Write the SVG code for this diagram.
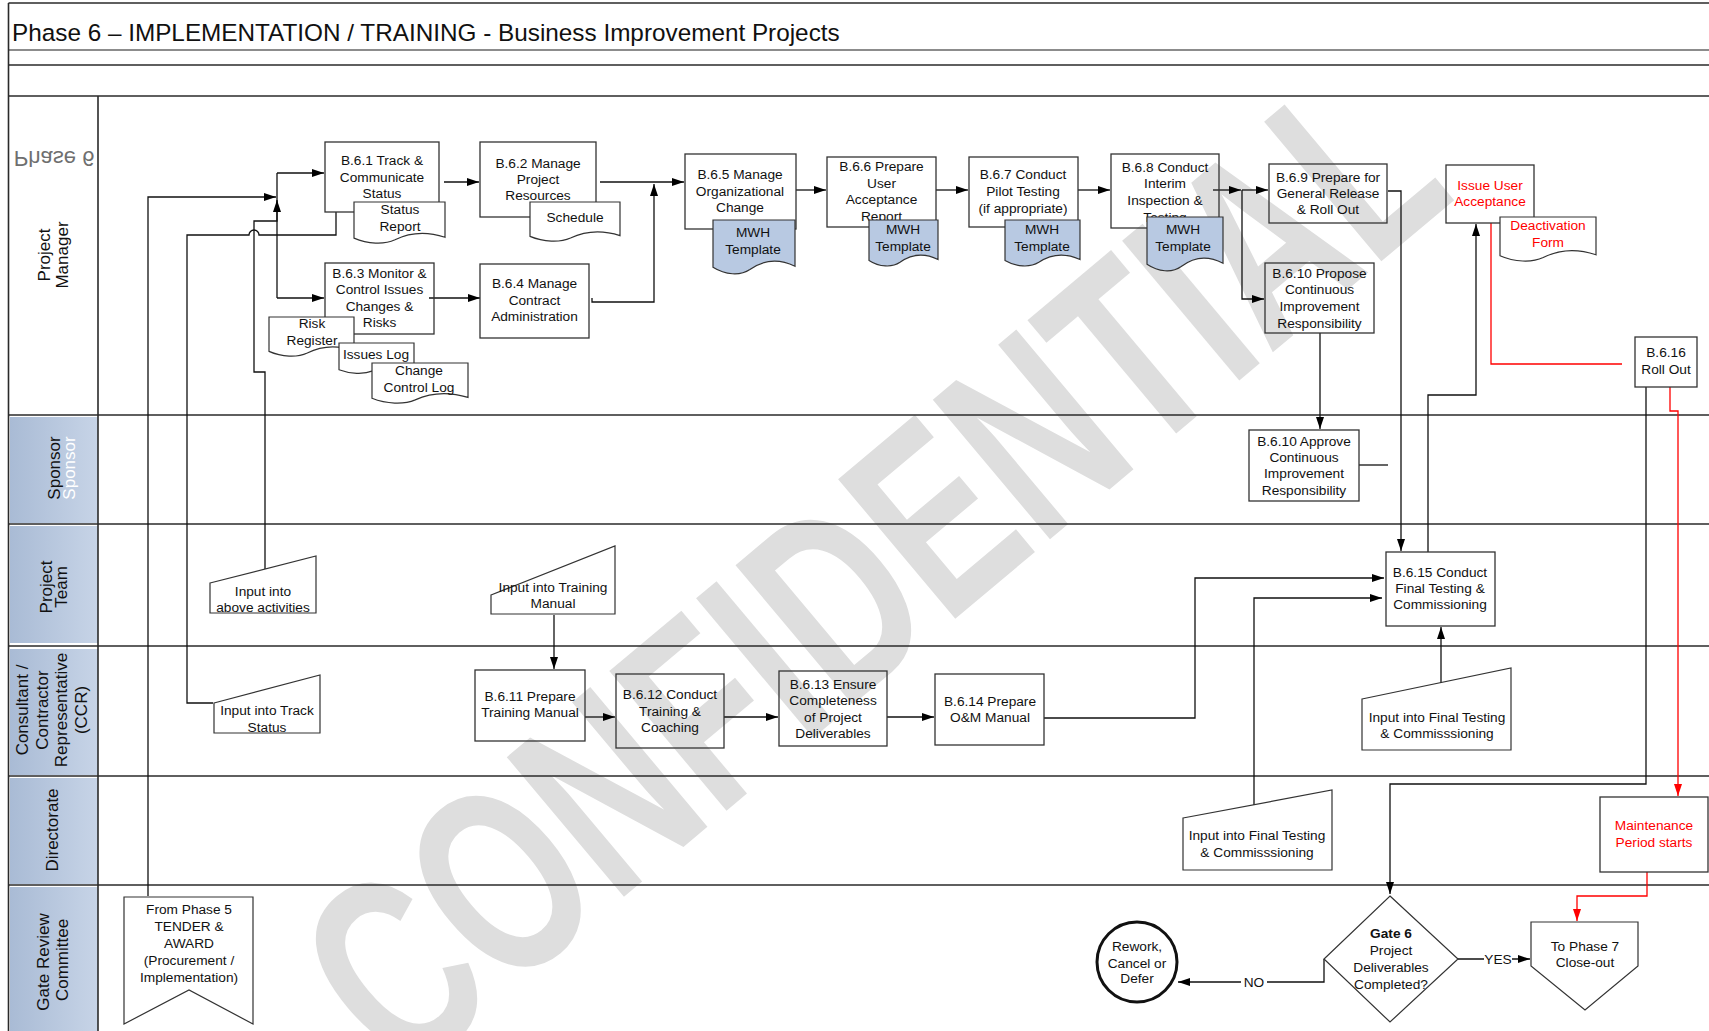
<svg xmlns="http://www.w3.org/2000/svg" width="1709" height="1031" viewBox="0 0 1709 1031">
<defs>
<style>
text{font-family:"Liberation Sans",Arial,sans-serif;}
.t{font-size:13.7px;text-anchor:middle;fill:#111;}
.red{fill:#ff0000;}
.lane{font-size:17px;text-anchor:middle;fill:#111;}
.box{fill:none;stroke:#333;stroke-width:1.3;}
.doc{fill:#ffffff;stroke:#333;stroke-width:1.2;}
.mwh{fill:#b8c9e2;stroke:#333;stroke-width:1.2;}
.inp{fill:none;stroke:#333;stroke-width:1.2;}
.ln{fill:none;stroke:#111;stroke-width:1.3;}
.rl{fill:none;stroke:#ff0000;stroke-width:1.3;}
.grid{stroke:#2a2a2a;stroke-width:1.6;fill:none;}
.lbl{fill:url(#lg);}
</style>
<linearGradient id="lg" x1="0" y1="0" x2="1" y2="0">
<stop offset="0" stop-color="#a9bbd5"/>
<stop offset="1" stop-color="#c7d4e7"/>
</linearGradient>
<marker id="ah" viewBox="0 0 12 8" refX="12" refY="4" markerWidth="12" markerHeight="8" markerUnits="userSpaceOnUse" orient="auto">
<path d="M0,0 L12,4 L0,8 z" fill="#000"/>
</marker>
<marker id="ahr" viewBox="0 0 12 8" refX="12" refY="4" markerWidth="12" markerHeight="8" markerUnits="userSpaceOnUse" orient="auto">
<path d="M0,0 L12,4 L0,8 z" fill="#ff0000"/>
</marker>
</defs>
<rect x="0" y="0" width="1709" height="1031" fill="#ffffff"/>
<!-- watermark -->
<text transform="translate(930,640) rotate(-40)" font-size="265" font-weight="bold" text-anchor="middle" textLength="1380" lengthAdjust="spacingAndGlyphs" fill="#dedede">CONFIDENTIAL</text>

<!-- frame & lanes -->
<g id="frame">
<rect class="lbl" x="10" y="417" width="88" height="106"/>
<rect class="lbl" x="10" y="526" width="88" height="117"/>
<rect class="lbl" x="10" y="649" width="88" height="126"/>
<rect class="lbl" x="10" y="778" width="88" height="106"/>
<rect class="lbl" x="10" y="887" width="88" height="144"/>
<line class="grid" x1="8.5" y1="3" x2="1709" y2="3"/>
<line x1="8.5" y1="50" x2="1709" y2="50" stroke="#666" stroke-width="1.6"/>
<line class="grid" x1="8.5" y1="65" x2="1709" y2="65"/>
<line class="grid" x1="8.5" y1="96" x2="1709" y2="96"/>
<line class="grid" x1="8.5" y1="3" x2="8.5" y2="1031"/>
<line class="grid" x1="98" y1="96" x2="98" y2="1031"/>
<line class="grid" x1="8.5" y1="415" x2="1709" y2="415"/>
<line class="grid" x1="8.5" y1="524" x2="1709" y2="524"/>
<line class="grid" x1="8.5" y1="646" x2="1709" y2="646"/>
<line class="grid" x1="8.5" y1="776" x2="1709" y2="776"/>
<line class="grid" x1="8.5" y1="885" x2="1709" y2="885"/>
<text x="12" y="41" font-size="24.3" fill="#111">Phase 6 – IMPLEMENTATION / TRAINING - Business Improvement Projects</text>
<text transform="translate(54,151) scale(1,-1)" font-size="22" text-anchor="middle" fill="#6f6f6f">Phase 6</text>
<text class="lane" transform="translate(50,255) rotate(-90)">Project</text>
<text class="lane" transform="translate(68,255) rotate(-90)">Manager</text>
<text class="lane" transform="translate(60,468) rotate(-90)">Sponsor</text>
<text class="lane" transform="translate(75,468) rotate(-90)" style="fill:#ffffff">Sponsor</text>
<text class="lane" transform="translate(52,587) rotate(-90)">Project</text>
<text class="lane" transform="translate(67,587) rotate(-90)">Team</text>
<text class="lane" transform="translate(28,710) rotate(-90)">Consultant /</text>
<text class="lane" transform="translate(47.5,710) rotate(-90)">Contractor</text>
<text class="lane" transform="translate(67,710) rotate(-90)">Representative</text>
<text class="lane" transform="translate(86.5,710) rotate(-90)">(CCR)</text>
<text class="lane" transform="translate(58,830) rotate(-90)">Directorate</text>
<text class="lane" transform="translate(49,962) rotate(-90)">Gate Review</text>
<text class="lane" transform="translate(68,960) rotate(-90)">Committee</text>
</g>

<!-- connectors -->
<g id="connectors">
<path class="ln" d="M148,896 V197 H276" marker-end="url(#ah)"/>
<path class="ln" d="M277,173 V298"/>
<path class="ln" d="M277,173 H324" marker-end="url(#ah)"/>
<path class="ln" d="M277,298 H324" marker-end="url(#ah)"/>
<path class="ln" d="M265,569 V372 H254 V221 H277 V200" marker-end="url(#ah)"/>
<path class="ln" d="M336,212 V235 H259 A5,5 0 0 0 249,235 H187 V703 H213"/>
<path class="ln" d="M444,182 H479" marker-end="url(#ah)"/>
<path class="ln" d="M429,298 H480" marker-end="url(#ah)"/>
<path class="ln" d="M600,182 H684" marker-end="url(#ah)"/>
<path class="ln" d="M592,298 V302 H654 V184" marker-end="url(#ah)"/>
<path class="ln" d="M796,190 H826" marker-end="url(#ah)"/>
<path class="ln" d="M936,190 H968" marker-end="url(#ah)"/>
<path class="ln" d="M1078,190 H1110" marker-end="url(#ah)"/>
<path class="ln" d="M1213,190 H1241" marker-end="url(#ah)"/>
<path class="ln" d="M1242,190 H1268" marker-end="url(#ah)"/>
<path class="ln" d="M1242,190 V299 H1264" marker-end="url(#ah)"/>
<path class="ln" d="M1388,191 H1401 V551" marker-end="url(#ah)"/>
<path class="ln" d="M1320,333 V429" marker-end="url(#ah)"/>
<path class="ln" d="M1359,465 H1388"/>
<path class="ln" d="M1428,552 V395 H1476 V224" marker-end="url(#ah)"/>
<path class="rl" d="M1622,364 H1491 V223"/>
<path class="ln" d="M1646,387 V784 H1390 V894" marker-end="url(#ah)"/>
<path class="rl" d="M1670,387 V411 H1678 V796" marker-end="url(#ahr)"/>
<path class="rl" d="M1647,872 V896 H1577 V921" marker-end="url(#ahr)"/>
<path class="ln" d="M1458,959 H1530" marker-end="url(#ah)"/>
<path class="ln" d="M1324,959 V982 H1178" marker-end="url(#ah)"/>
<path class="ln" d="M585,717 H615" marker-end="url(#ah)"/>
<path class="ln" d="M724,717 H778" marker-end="url(#ah)"/>
<path class="ln" d="M887,717 H934" marker-end="url(#ah)"/>
<path class="ln" d="M1044,718 H1195 V578 H1384" marker-end="url(#ah)"/>
<path class="ln" d="M1254,805 V598 H1382" marker-end="url(#ah)"/>
<path class="ln" d="M1441,683 V627" marker-end="url(#ah)"/>
<path class="ln" d="M554,615 V669" marker-end="url(#ah)"/>
<rect x="1484" y="951" width="28" height="16" fill="#ffffff"/>
<text class="t" x="1498" y="964">YES</text>
<rect x="1241" y="974" width="26" height="16" fill="#ffffff"/>
<text class="t" x="1254" y="987">NO</text>
</g>

<!-- nodes -->
<g id="n-b61">
<rect class="box" x="325" y="142" width="114" height="70"/>
<text class="t" x="382"><tspan x="382" y="165">B.6.1 Track &amp;</tspan><tspan x="382" y="181.5">Communicate</tspan><tspan x="382" y="198">Status</tspan></text>
</g>
<g id="n-status-report">
<path class="doc" d="M354,202 H445 V237.3 C425,230.6 408.6,233.1 395,239.8 C384,244.8 367.7,244 354,238.1 Z"/>
<text class="t"><tspan x="400" y="214">Status</tspan><tspan x="400" y="231">Report</tspan></text>
</g>
<g id="n-b62">
<rect class="box" x="480" y="142" width="116" height="75"/>
<text class="t"><tspan x="538" y="168">B.6.2 Manage</tspan><tspan x="538" y="184">Project</tspan><tspan x="538" y="200">Resources</tspan></text>
</g>
<g id="n-schedule">
<path class="doc" d="M530,202 H620 V235.6 C600.2,229.2 584,231.6 570.5,238 C559.7,242.8 543.5,242 530,236.4 Z"/>
<text class="t" x="575" y="222">Schedule</text>
</g>
<g id="n-b63">
<rect class="box" x="325" y="263" width="109" height="71"/>
<text class="t"><tspan x="379.5" y="278">B.6.3 Monitor &amp;</tspan><tspan x="379.5" y="294">Control Issues</tspan><tspan x="379.5" y="311">Changes &amp;</tspan><tspan x="379.5" y="327">Risks</tspan></text>
</g>
<g id="n-risk-register">
<path class="doc" d="M269,317 H354 V350.6 C335.3,344.2 320,346.6 307.3,353 C297,357.8 281.8,357 269,351.4 Z"/>
<text class="t"><tspan x="312" y="328">Risk</tspan><tspan x="312" y="345">Register</tspan></text>
</g>
<g id="n-issues-log">
<path class="doc" d="M339,343 H414 V369 C397.5,364.1 384,366 372.8,370.9 C363.8,374.6 350.3,374 339,369.7 Z"/>
<text class="t" x="376" y="359">Issues Log</text>
</g>
<g id="n-change-log">
<path class="doc" d="M372,363 H468 V397.4 C446.9,390.9 429.6,393.3 415.2,399.9 C403.7,404.8 386.4,404 372,398.3 Z"/>
<text class="t"><tspan x="419" y="375">Change</tspan><tspan x="419" y="392">Control Log</tspan></text>
</g>
<g id="n-b64">
<rect class="box" x="480" y="264" width="109" height="74"/>
<text class="t"><tspan x="534.5" y="288">B.6.4 Manage</tspan><tspan x="534.5" y="305">Contract</tspan><tspan x="534.5" y="321">Administration</tspan></text>
</g>
<g id="n-b65">
<rect class="box" x="685" y="154" width="111" height="75"/>
<text class="t"><tspan x="740" y="179">B.6.5 Manage</tspan><tspan x="740" y="196">Organizational</tspan><tspan x="740" y="212">Change</tspan></text>
<path class="mwh" d="M713,220 H795 V266.2 C777,257.4 762.2,260.7 749.9,269.5 C740.1,276.1 725.3,275 713,267.3 Z"/>
<text class="t"><tspan x="753" y="237">MWH</tspan><tspan x="753" y="254">Template</tspan></text>
</g>
<g id="n-b66">
<rect class="box" x="827" y="157" width="109" height="70"/>
<text class="t"><tspan x="881.5" y="171">B.6.6 Prepare</tspan><tspan x="881.5" y="188">User</tspan><tspan x="881.5" y="204">Acceptance</tspan><tspan x="881.5" y="221">Report</tspan></text>
<path class="mwh" d="M869,220 H938 V259.5 C922.8,252 910.4,254.8 900,262.3 C891.8,267.9 879.4,267 869,260.4 Z"/>
<text class="t"><tspan x="903" y="234">MWH</tspan><tspan x="903" y="251">Template</tspan></text>
</g>
<g id="n-b67">
<rect class="box" x="969" y="157" width="109" height="70"/>
<text class="t"><tspan x="1023" y="179">B.6.7 Conduct</tspan><tspan x="1023" y="196">Pilot Testing</tspan><tspan x="1023" y="213">(if appropriate)</tspan></text>
<path class="mwh" d="M1005,220 H1080 V259.5 C1063.5,252 1050,254.8 1038.8,262.3 C1029.8,267.9 1016.3,267 1005,260.4 Z"/>
<text class="t"><tspan x="1042" y="234">MWH</tspan><tspan x="1042" y="251">Template</tspan></text>
</g>
<g id="n-b68">
<rect class="box" x="1111" y="154" width="108" height="74"/>
<text class="t"><tspan x="1165" y="172">B.6.8 Conduct</tspan><tspan x="1165" y="188">Interim</tspan><tspan x="1165" y="205">Inspection &amp;</tspan><tspan x="1165" y="222">Testing</tspan></text>
<path class="mwh" d="M1147,217 H1223 V263.2 C1206.3,254.4 1192.6,257.7 1181.2,266.5 C1172.1,273.1 1158.4,272 1147,264.3 Z"/>
<text class="t"><tspan x="1183" y="234">MWH</tspan><tspan x="1183" y="251">Template</tspan></text>
</g>
<g id="n-b69">
<rect class="box" x="1269" y="164" width="118" height="59"/>
<text class="t"><tspan x="1328" y="182">B.6.9 Prepare for</tspan><tspan x="1328" y="198">General Release</tspan><tspan x="1328" y="214">&amp; Roll Out</tspan></text>
</g>
<g id="n-b610p">
<rect class="box" x="1265" y="263" width="109" height="70"/>
<text class="t"><tspan x="1319.5" y="278">B.6.10 Propose</tspan><tspan x="1319.5" y="294">Continuous</tspan><tspan x="1319.5" y="311">Improvement</tspan><tspan x="1319.5" y="328">Responsibility</tspan></text>
</g>
<g id="n-issue-ua">
<rect class="box" x="1446" y="165" width="88" height="58"/>
<text class="t red"><tspan x="1490" y="190">Issue User</tspan><tspan x="1490" y="206">Acceptance</tspan></text>
</g>
<g id="n-deact">
<path class="doc" d="M1500,217 H1596 V254.8 C1574.9,247.6 1557.6,250.3 1543.2,257.5 C1531.7,262.9 1514.4,262 1500,255.7 Z"/>
<text class="t red"><tspan x="1548" y="230">Deactivation</tspan><tspan x="1548" y="247">Form</tspan></text>
</g>
<g id="n-b616">
<rect class="box" x="1635" y="337" width="62" height="50"/>
<text class="t"><tspan x="1666" y="357">B.6.16</tspan><tspan x="1666" y="374">Roll Out</tspan></text>
</g>
<g id="n-b610a">
<rect class="box" x="1249" y="430" width="110" height="71"/>
<text class="t"><tspan x="1304" y="446">B.6.10 Approve</tspan><tspan x="1304" y="462">Continuous</tspan><tspan x="1304" y="478">Improvement</tspan><tspan x="1304" y="495">Responsibility</tspan></text>
</g>
<g id="n-in-above">
<polygon class="inp" points="210,583 316,556 316,613 210,613"/>
<text class="t"><tspan x="263" y="596">Input into</tspan><tspan x="263" y="612">above activities</tspan></text>
</g>
<g id="n-in-track">
<polygon class="inp" points="214,703 320,675 320,733 214,733"/>
<text class="t"><tspan x="267" y="715">Input into Track</tspan><tspan x="267" y="732">Status</tspan></text>
</g>
<g id="n-in-training">
<polygon class="inp" points="491,595 615,546 615,614 491,614"/>
<text class="t"><tspan x="553" y="592">Input into Training</tspan><tspan x="553" y="608">Manual</tspan></text>
</g>
<g id="n-b611">
<rect class="box" x="475" y="670" width="110" height="71"/>
<text class="t"><tspan x="530" y="701">B.6.11 Prepare</tspan><tspan x="530" y="717">Training Manual</tspan></text>
</g>
<g id="n-b612">
<rect class="box" x="616" y="674" width="108" height="74"/>
<text class="t"><tspan x="670" y="699">B.6.12 Conduct</tspan><tspan x="670" y="716">Training &amp;</tspan><tspan x="670" y="732">Coaching</tspan></text>
</g>
<g id="n-b613">
<rect class="box" x="779" y="671" width="108" height="75"/>
<text class="t"><tspan x="833" y="689">B.6.13 Ensure</tspan><tspan x="833" y="705">Completeness</tspan><tspan x="833" y="722">of Project</tspan><tspan x="833" y="738">Deliverables</tspan></text>
</g>
<g id="n-b614">
<rect class="box" x="935" y="674" width="109" height="71"/>
<text class="t"><tspan x="990" y="706">B.6.14 Prepare</tspan><tspan x="990" y="722">O&amp;M Manual</tspan></text>
</g>
<g id="n-b615">
<rect class="box" x="1386" y="552" width="109" height="74"/>
<text class="t"><tspan x="1440" y="577">B.6.15 Conduct</tspan><tspan x="1440" y="593">Final Testing &amp;</tspan><tspan x="1440" y="609">Commissioning</tspan></text>
</g>
<g id="n-in-final-ccr">
<polygon class="inp" points="1362,699 1511,668 1511,750 1362,750"/>
<text class="t"><tspan x="1437" y="722">Input into Final Testing</tspan><tspan x="1437" y="738">&amp; Commisssioning</tspan></text>
</g>
<g id="n-in-final-dir">
<polygon class="inp" points="1183,818 1332,790 1332,870 1183,870"/>
<text class="t"><tspan x="1257" y="840">Input into Final Testing</tspan><tspan x="1257" y="857">&amp; Commisssioning</tspan></text>
</g>
<g id="n-maint">
<rect class="box" x="1600" y="797" width="108" height="75"/>
<text class="t red"><tspan x="1654" y="830">Maintenance</tspan><tspan x="1654" y="847">Period starts</tspan></text>
</g>
<g id="n-from5">
<polygon class="inp" points="124,897 253,897 253,1024 189,990 124,1024"/>
<text class="t"><tspan x="189" y="914">From Phase 5</tspan><tspan x="189" y="931">TENDER &amp;</tspan><tspan x="189" y="948">AWARD</tspan><tspan x="189" y="965">(Procurement /</tspan><tspan x="189" y="982">Implementation)</tspan></text>
</g>
<g id="n-gate6">
<polygon class="inp" points="1390,896 1458,959 1390,1022 1324,959"/>
<text class="t"><tspan x="1391" y="938" font-weight="bold">Gate 6</tspan><tspan x="1391" y="955">Project</tspan><tspan x="1391" y="972">Deliverables</tspan><tspan x="1391" y="989">Completed?</tspan></text>
</g>
<g id="n-rework">
<circle cx="1137" cy="962" r="40" fill="none" stroke="#111" stroke-width="3"/>
<text class="t"><tspan x="1137" y="951">Rework,</tspan><tspan x="1137" y="968">Cancel or</tspan><tspan x="1137" y="983">Defer</tspan></text>
</g>
<g id="n-to7">
<polygon class="inp" points="1531,922 1638,922 1638,966 1585,1010 1531,966"/>
<text class="t"><tspan x="1585" y="951">To Phase 7</tspan><tspan x="1585" y="967">Close-out</tspan></text>
</g>
</svg>
